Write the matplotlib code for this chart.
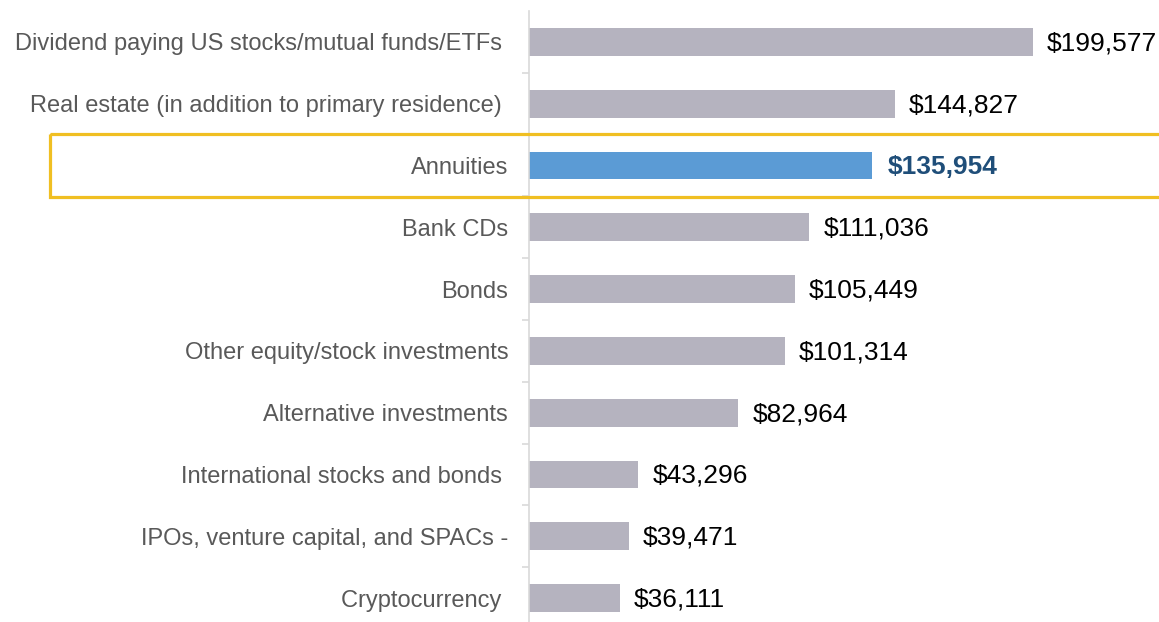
import matplotlib
matplotlib.use("Agg")
import matplotlib.pyplot as plt
from matplotlib.patches import Rectangle
from matplotlib.transforms import blended_transform_factory

plt.rcParams['font.family'] = ['Liberation Sans', 'DejaVu Sans']

categories = [
    "Dividend paying US stocks/mutual funds/ETFs ",
    "Real estate (in addition to primary residence) ",
    "Annuities",
    "Bank CDs",
    "Bonds",
    "Other equity/stock investments",
    "Alternative investments",
    "International stocks and bonds ",
    "IPOs, venture capital, and SPACs -",
    "Cryptocurrency ",
]
values = [199577, 144827, 135954, 111036, 105449, 101314, 82964, 43296, 39471, 36111]
highlight = "Annuities"

gray = "#B5B3BF"
blue = "#5B9BD5"
dark_blue = "#1F4E79"
yellow = "#F0BF22"
axis_gray = "#D9D9D9"

fig = plt.figure(figsize=(11.59, 6.22), dpi=100)
ax = fig.add_axes([529 / 1159, -6.9 / 622, 630 / 1159, 617.8 / 622])

pos = list(range(len(categories)))
colors = [blue if c == highlight else gray for c in categories]
bars = ax.barh(pos, values, height=0.45, color=colors, zorder=2)

ax.set_ylim(len(categories) - 0.5, -0.5)
ax.set_xlim(0, 249500)

for b, c, v in zip(bars, categories, values):
    y = b.get_y() + b.get_height() / 2
    if c == highlight:
        ax.annotate(f"${v:,}", (v, y), xytext=(11, -1), textcoords="offset points",
                    va="center", ha="left", fontsize=19, fontweight="bold",
                    color=dark_blue)
    else:
        ax.annotate(f"${v:,}", (v, y), xytext=(10, -1), textcoords="offset points",
                    va="center", ha="left", fontsize=19, color="black")

ax.set_yticks(pos)
ax.set_yticklabels(categories, fontsize=17, color="#595959")
ax.set_yticks([p + 0.5 for p in pos[:-1]], minor=True)
ax.tick_params(axis="y", which="major", length=0, pad=15)
ax.tick_params(axis="y", which="minor", length=5, width=1.2, color=axis_gray)
ax.set_xticks([])

for s in ["top", "right", "bottom"]:
    ax.spines[s].set_visible(False)
ax.spines["left"].set_color(axis_gray)
ax.spines["left"].set_linewidth(1.2)

# highlight box around the Annuities row
hi = categories.index(highlight)
tr = blended_transform_factory(ax.transAxes, ax.transData)
ax.add_patch(Rectangle((-0.76, hi - 0.51), 1.9, 1.02, transform=tr, fill=False,
                       edgecolor=yellow, linewidth=2.3, clip_on=False, zorder=3))

fig.savefig("out.png", dpi=100)
